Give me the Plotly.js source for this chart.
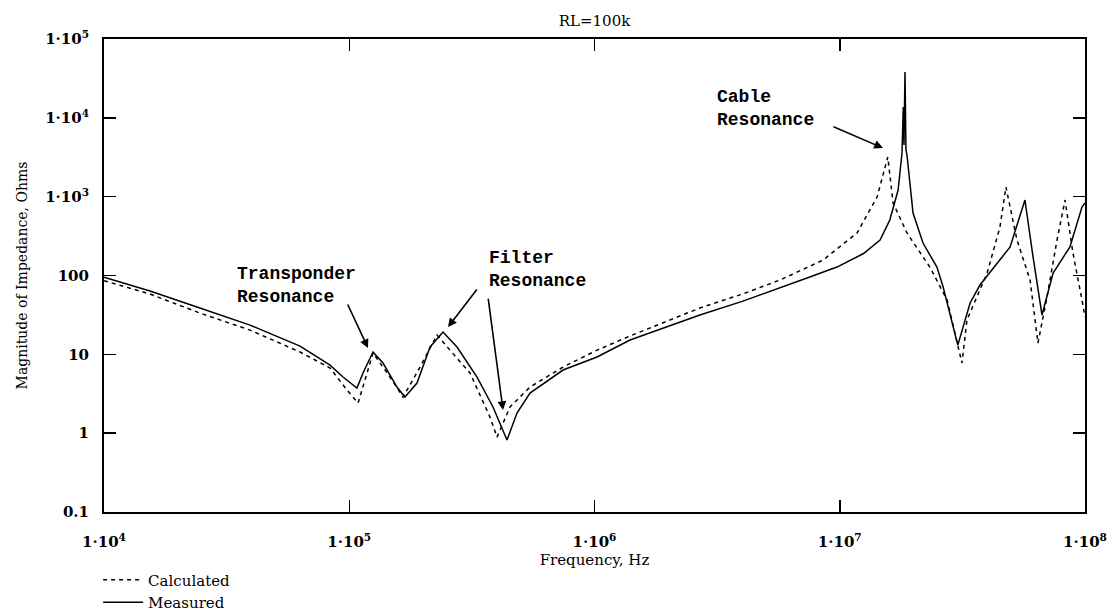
<!DOCTYPE html>
<html>
<head>
<meta charset="utf-8">
<script src="https://cdn.plot.ly/plotly-3.0.1.min.js"></script>
<style>
  html, body { margin: 0; padding: 0; background: #ffffff; }
  #chart { width: 1113px; height: 615px; }
</style>
</head>
<body>
<div id="chart"></div>
<script>
// ---- Data ----
const freqMeasured = [1e4, 15.4e3, 24.6e3, 39.4e3, 63.0e3, 83.5e3, 94.3e3, 107.5e3, 113.8e3, 125e3,
  137.3e3, 156.5e3, 168.7e3, 188.9e3, 213.5e3, 241.2e3, 275e3, 331.9e3, 385.6e3, 439.8e3,
  483e3, 545.8e3, 744e3, 1.024e6, 1.396e6, 2.69e6, 4.0e6, 5.71e6, 7.5e6, 9.74e6, 12.5e6, 14.6e6, 16.0e6,
  17.3e6, 17.94e6, 18.16e6, 18.28e6, 18.45e6, 18.62e6, 18.80e6, 19.9e6, 21.85e6, 24.9e6,
  26.4e6, 30.3e6, 34.0e6, 37.3e6, 49.5e6, 56.9e6, 61.4e6, 66.8e6, 74.1e6, 86.8e6, 97.2e6, 1e8];
const zMeasured = [95, 63.6, 38.7, 23.5, 12.7, 7.3, 5.15, 3.74, 5.8, 10.7,
  7.76, 3.85, 2.87, 4.32, 12.4, 19.2, 12.4, 5.15, 2.15, 0.82,
  1.80, 3.23, 6.32, 9.24, 15.2, 31.5, 47, 69.3, 95, 128, 190, 282, 506,
  1215, 3580, 13700, 4520, 38100, 3910, 3375, 621, 258, 128,
  71.4, 13.1, 44.8, 75.7, 230, 907, 172, 31.5, 107.5, 230, 739, 831];

const freqCalculated = [1e4, 15.4e3, 24.6e3, 39.4e3, 63.0e3, 83.5e3, 97.9e3, 108.6e3, 115.9e3, 125e3,
  146.6e3, 165.7e3, 194.4e3, 228e3, 257.5e3, 310.7e3, 374.9e3, 400.5e3, 452.4e3, 545.8e3,
  744e3, 1.024e6, 1.396e6, 2.69e6, 4.0e6, 5.71e6, 8.55e6, 11.76e6, 14.2e6, 15.7e6, 16.5e6,
  18.8e6, 23.3e6, 27.4e6, 31.5e6, 33.0e6, 39.9e6, 45.0e6, 47.6e6, 52.8e6, 59.7e6,
  64.3e6, 70.0e6, 76.9e6, 82.9e6, 89.3e6, 97.2e6, 1e8];
const zCalculated = [86, 58.2, 33.4, 20.3, 10.7, 6.7, 3.53, 2.41, 4.72, 10.4,
  5.15, 2.87, 6.9, 17.6, 11.3, 5.8, 1.60, 0.89, 2.15, 3.85,
  6.9, 11.3, 17.1, 38.7, 58, 87.7, 157, 346, 990, 3185, 831,
  346, 128, 48.9, 7.76, 27.2, 107.5, 412, 1326, 282, 87.7,
  13.9, 53.3, 282, 907, 193, 48.9, 29.7];

const xTickValues = [1e4, 1e5, 1e6, 1e7, 1e8];
const xTickLabels = ['1·10<sup>4</sup>', '1·10<sup>5</sup>', '1·10<sup>6</sup>', '1·10<sup>7</sup>', '1·10<sup>8</sup>'];
const yTickValues = [0.1, 1, 10, 100, 1e3, 1e4, 1e5];
const yTickLabels = ['0.1', '1', '10', '100', '1·10<sup>3</sup>', '1·10<sup>4</sup>', '1·10<sup>5</sup>'];

const seriesNames = ['Calculated', 'Measured'];
const chartTitle = 'RL=100k';
const xTitle = 'Frequency, Hz';
const yTitle = 'Magnitude of Impedance, Ohms';

const labelTransponder = 'Transponder<br>Resonance';
const labelFilter = 'Filter<br>Resonance';
const labelCable = 'Cable<br>Resonance';

// ---- Styling ----
const serif = 'DejaVu Serif, Liberation Serif, serif';
const mono = 'Liberation Mono, DejaVu Sans Mono, monospace';

const traces = [
  {
    x: freqCalculated, y: zCalculated, name: seriesNames[0],
    type: 'scatter', mode: 'lines',
    line: { color: '#000', width: 1.5, dash: '4px,4px' }
  },
  {
    x: freqMeasured, y: zMeasured, name: seriesNames[1],
    type: 'scatter', mode: 'lines',
    line: { color: '#000', width: 1.5 }
  }
];

const annFont = { family: mono, size: 18, color: '#000', weight: 'bold' };
const arrowBase = { xref: 'x', yref: 'y', text: '', showarrow: true, arrowhead: 2,
  arrowsize: 1.1, arrowwidth: 1.6, arrowcolor: '#000', standoff: 0, startstandoff: 0 };

const layout = {
  width: 1113, height: 615,
  paper_bgcolor: '#fff', plot_bgcolor: '#fff',
  margin: { l: 104, r: 28, t: 39, b: 103, autoexpand: false },
  showlegend: true,
  title: { text: chartTitle, font: { family: serif, size: 15, color: '#000' },
           x: 0.5, xref: 'paper', y: 1 - 21 / 615, yref: 'container', yanchor: 'middle' },
  xaxis: {
    type: 'log', range: [4, 8],
    tickmode: 'array', tickvals: xTickValues, ticktext: xTickLabels,
    ticks: 'inside', ticklen: 12, tickwidth: 1.5, tickcolor: '#000',
    showline: true, linecolor: '#000', linewidth: 2, mirror: 'ticks',
    showgrid: false, zeroline: false,
    tickfont: { family: serif, size: 15, color: '#000', weight: 'bold' },
    ticklabelstandoff: 15,
    title: { text: xTitle, font: { family: serif, size: 15, color: '#000' }, standoff: 0 }
  },
  yaxis: {
    type: 'log', range: [-1, 5],
    tickmode: 'array', tickvals: yTickValues, ticktext: yTickLabels,
    ticks: 'inside', ticklen: 12, tickwidth: 1.5, tickcolor: '#000',
    showline: true, linecolor: '#000', linewidth: 2, mirror: 'ticks',
    showgrid: false, zeroline: false,
    tickfont: { family: serif, size: 15, color: '#000', weight: 'bold' },
    ticklabelstandoff: 10,
    title: { text: yTitle, font: { family: serif, size: 14, color: '#000' }, standoff: 14 }
  },
  legend: {
    orientation: 'v', x: -0.006, xanchor: 'left', y: -0.109, yanchor: 'top',
    bgcolor: 'rgba(0,0,0,0)', font: { family: serif, size: 15, color: '#000' },
    tracegroupgap: 0, itemwidth: 40
  },
  annotations: [
    { xref: 'x', yref: 'y', x: 4.534, y: 1.867, xanchor: 'left', yanchor: 'middle', align: 'left',
      text: labelTransponder, showarrow: false, font: annFont },
    { xref: 'x', yref: 'y', x: 5.562, y: 2.070, xanchor: 'left', yanchor: 'middle', align: 'left',
      text: labelFilter, showarrow: false, font: annFont },
    { xref: 'x', yref: 'y', x: 6.491, y: 4.118, xanchor: 'left', yanchor: 'middle', align: 'left',
      text: labelCable, showarrow: false, font: annFont },
    Object.assign({}, arrowBase, { x: 5.0765, y: 1.080, ax: -21, ay: -45 }),
    Object.assign({}, arrowBase, { x: 5.4027, y: 1.346, ax: 30, ay: -39 }),
    Object.assign({}, arrowBase, { x: 5.627, y: 0.2935, ax: -15, ay: -113 }),
    Object.assign({}, arrowBase, { x: 7.1764, y: 3.617, ax: -51, ay: -22 })
  ]
};

Plotly.newPlot('chart', traces, layout, { staticPlot: true, displayModeBar: false });
</script>
</body>
</html>
